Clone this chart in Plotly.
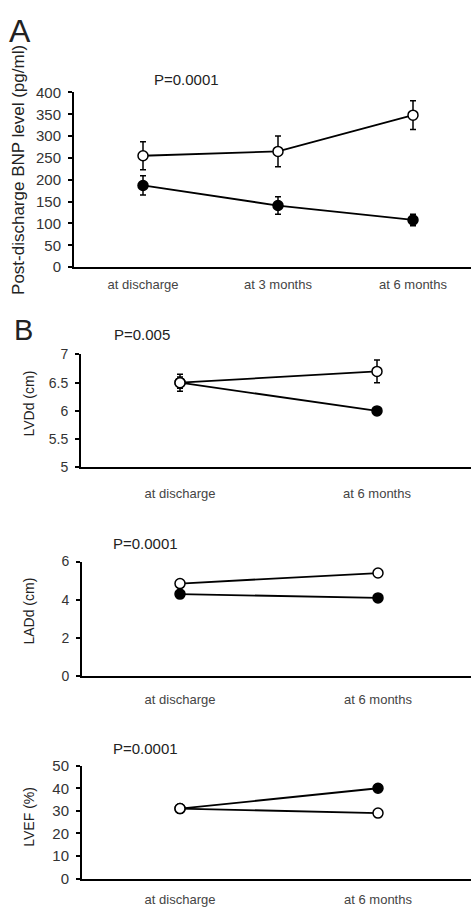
import plotly.graph_objects as go

W, H = 471, 916

# ---- data ----
cats3 = ["at discharge", "at 3 months", "at 6 months"]
cats2 = ["at discharge", "at 6 months"]

bnp_open = [255, 265, 348]
bnp_open_err = [32, 35, 33]
bnp_filled = [187, 141, 108]
bnp_filled_err = [22, 20, 13]

lvdd_open = [6.5, 6.7]
lvdd_open_err = [0.15, 0.2]
lvdd_filled = [6.5, 6.0]
lvdd_filled_err = [0.1, 0.05]

ladd_open = [4.85, 5.4]
ladd_filled = [4.3, 4.1]

lvef_open = [31, 29]
lvef_filled = [31, 40]

fig = go.Figure()

def py(p):
    return 1 - p / H

def add_series(xa, ya, cats, vals, err, filled):
    kw = {}
    if err is not None:
        kw["error_y"] = dict(type="data", array=err, visible=True, color="black",
                             thickness=1.5, width=3)
    fig.add_trace(go.Scatter(
        x=list(range(len(cats))), y=vals, mode="lines+markers",
        xaxis=xa, yaxis=ya, showlegend=False, hoverinfo="skip",
        line=dict(color="black", width=1.8),
        marker=dict(symbol="circle", size=10,
                    color="black" if filled else "white",
                    line=dict(color="black", width=1.5)),
        **kw))

# panel A
add_series("x", "y", cats3, bnp_filled, bnp_filled_err, True)
add_series("x", "y", cats3, bnp_open, bnp_open_err, False)
# panel B1
add_series("x2", "y2", cats2, lvdd_filled, lvdd_filled_err, True)
add_series("x2", "y2", cats2, lvdd_open, lvdd_open_err, False)
# panel B2
add_series("x3", "y3", cats2, ladd_filled, None, True)
add_series("x3", "y3", cats2, ladd_open, None, False)
# panel B3
add_series("x4", "y4", cats2, lvef_filled, None, True)
add_series("x4", "y4", cats2, lvef_open, None, False)

FONT = "Liberation Sans, Arial, sans-serif"
xtickfont = dict(family=FONT, size=13, color="#444")

def xax(left_px, c0_px, c1_px, n, cats, standoff):
    unit = c1_px - c0_px
    lo = (left_px - c0_px) / unit
    hi = (W - c0_px) / unit
    return dict(domain=[left_px / W, 1], range=[lo, hi], tickvals=list(range(n)),
                ticktext=cats, showgrid=False, zeroline=False, showline=True,
                linecolor="black", linewidth=2, ticks="", tickfont=xtickfont,
                ticklabelstandoff=standoff, fixedrange=True)

def yax(top_px, bot_px, rng, dtick, anchor, fsize):
    return dict(domain=[py(bot_px), py(top_px)], range=rng, dtick=dtick,
                showgrid=False, zeroline=False, showline=True, linecolor="black",
                linewidth=2, ticks="outside", ticklen=4, tickwidth=1.5,
                tickcolor="black", tickfont=dict(family=FONT, size=fsize, color="#333"),
                ticklabelstandoff=4, anchor=anchor, fixedrange=True)

fig.update_layout(
    width=W, height=H, margin=dict(l=0, r=0, t=0, b=0),
    paper_bgcolor="white", plot_bgcolor="white",
    xaxis=xax(74, 143, 278, 3, cats3, 4) | dict(anchor="y"),
    yaxis=yax(85, 263, [0, 400], 50, "x", 15),
    xaxis2=xax(81, 180, 377, 2, cats2, 13) | dict(anchor="y2"),
    yaxis2=yax(352, 467, [5, 7], 0.5, "x2", 14),
    xaxis3=xax(82, 180, 378, 2, cats2, 10) | dict(anchor="y3"),
    yaxis3=yax(563, 680, [0, 6], 2, "x3", 14),
    xaxis4=xax(82, 180, 378, 2, cats2, 8) | dict(anchor="y4"),
    yaxis4=yax(771, 886, [0, 50], 10, "x4", 15),
)

ann = [
    dict(text="A", x=20, y=22, size=32, angle=0),
    dict(text="B", x=23, y=327, size=29, angle=0),
    dict(text="P=0.0001", x=186, y=72, size=15, angle=0),
    dict(text="P=0.005", x=142, y=332, size=15, angle=0),
    dict(text="P=0.0001", x=145, y=545, size=15, angle=0),
    dict(text="P=0.0001", x=145, y=753, size=15, angle=0),
    dict(text="Post-discharge BNP level (pg/ml)", x=19, y=164, size=17, angle=-90),
    dict(text="LVDd (cm)", x=29, y=402, size=14, angle=-90),
    dict(text="LADd (cm)", x=29, y=614, size=14, angle=-90),
    dict(text="LVEF (%)", x=29, y=823, size=14, angle=-90),
]
for a in ann:
    fig.add_annotation(text=a["text"], x=a["x"] / W, y=py(a["y"]), xref="paper",
                       yref="paper", showarrow=False, textangle=a["angle"],
                       xanchor="center", yanchor="middle",
                       font=dict(family=FONT, size=a["size"], color="#222"))

fig.write_html("out.html", config={"displayModeBar": False},
               post_script="document.body.style.margin='0';document.body.style.padding='0';")
